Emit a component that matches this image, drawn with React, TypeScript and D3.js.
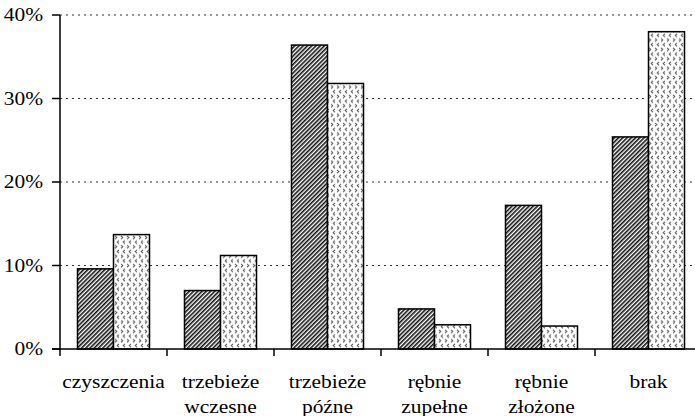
import React from "react";
import * as d3 from "d3";

const categories = [
  ["czyszczenia"],
  ["trzebieże", "wczesne"],
  ["trzebieże", "późne"],
  ["rębnie", "zupełne"],
  ["rębnie", "złożone"],
  ["brak"],
];
const seriesNames = ["A", "B"];
const seriesA = [9.6, 7.0, 36.4, 4.8, 17.2, 25.4];
const seriesB = [13.7, 11.2, 31.8, 2.9, 2.75, 38.0];
const yTicks = [0, 10, 20, 30, 40];

const W = 695;
const H = 416;
const left = 60;
const right = 702;
const top = 15;
const bottom = 349;

export default function App() {
  const keys = categories.map((c) => c.join(" "));
  const x0 = d3
    .scaleBand<string>()
    .domain(keys)
    .range([left, right])
    .paddingInner(0.327)
    .paddingOuter(0.1635);
  const x1 = d3.scaleBand<string>().domain(seriesNames).range([0, x0.bandwidth()]);
  const y = d3.scaleLinear().domain([0, 40]).range([bottom, top]);
  const step = x0.step();
  const sx = 1.1;
  const fs = 19.5;
  const fontStyle = { fontFamily: "'Liberation Serif', 'Times New Roman', serif" };

  return (
    <svg
      width={W}
      height={H}
      style={{ position: "fixed", left: 0, top: 0, background: "#fff" }}
    >
      <defs>
        <pattern
          id="hatch"
          patternUnits="userSpaceOnUse"
          width={3}
          height={3}
          patternTransform="rotate(45)"
        >
          <rect width={3} height={3} fill="#fff" />
          <line x1={0.8} y1={0} x2={0.8} y2={3} stroke="#111" strokeWidth={1.6} />
        </pattern>
        <pattern id="dots" patternUnits="userSpaceOnUse" width={6} height={9.4}>
          <rect width={6} height={9.4} fill="#fff" />
          <path d="M1.0,0.8 L2.8,2.4 L1.0,4.0" fill="none" stroke="#555" strokeWidth={1} />
          <path d="M5.0,5.5 L3.2,7.1 L5.0,8.7" fill="none" stroke="#555" strokeWidth={1} />
        </pattern>
      </defs>

      {yTicks.slice(1).map((t) => (
        <line
          key={"g" + t}
          x1={left}
          x2={W}
          y1={y(t)}
          y2={y(t)}
          stroke="#333"
          strokeWidth={1}
          strokeDasharray="2,4"
        />
      ))}

      {keys.map((k, i) => (
        <g key={k}>
          {[seriesA[i], seriesB[i]].map((v, j) => (
            <rect
              key={j}
              x={(x0(k) as number) + (x1(seriesNames[j]) as number)}
              y={y(v)}
              width={x1.bandwidth()}
              height={bottom - y(v)}
              fill={j === 0 ? "url(#hatch)" : "url(#dots)"}
              stroke="#000"
              strokeWidth={1.5}
            />
          ))}
        </g>
      ))}

      <line x1={left} x2={left} y1={top} y2={bottom} stroke="#000" strokeWidth={1.5} />
      <line x1={52} x2={W} y1={bottom} y2={bottom} stroke="#000" strokeWidth={1.5} />
      {yTicks.map((t) => (
        <g key={"t" + t}>
          <line x1={52} x2={left} y1={y(t)} y2={y(t)} stroke="#000" strokeWidth={1.5} />
          <g transform={`translate(43,${y(t) + 6}) scale(${sx},1)`}>
            <text textAnchor="end" style={fontStyle} fontSize={fs} fill="#000">
              {t + "%"}
            </text>
          </g>
        </g>
      ))}
      {keys.map((k, i) => (
        <line
          key={"xt" + i}
          x1={left + i * step}
          x2={left + i * step}
          y1={bottom}
          y2={bottom + 7}
          stroke="#000"
          strokeWidth={1.5}
        />
      ))}
      {categories.map((lines, i) => {
        const cx = (x0(keys[i]) as number) + x0.bandwidth() / 2;
        return lines.map((ln, li) => (
          <g key={i + "-" + li} transform={`translate(${cx},${388 + li * 24.5}) scale(${sx},1)`}>
            <text textAnchor="middle" style={fontStyle} fontSize={fs} fill="#000">
              {ln}
            </text>
          </g>
        ));
      })}
    </svg>
  );
}
